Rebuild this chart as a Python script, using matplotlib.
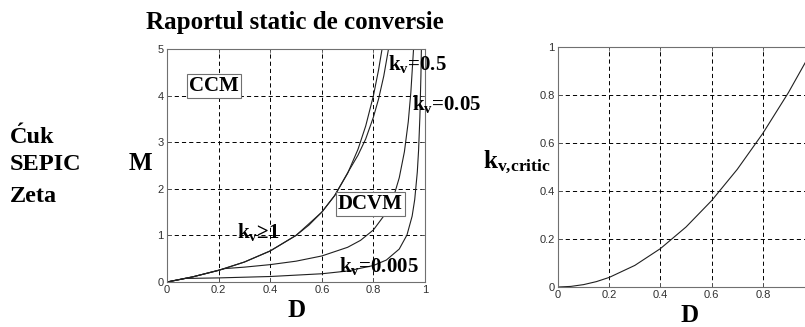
import numpy as np
import matplotlib.pyplot as plt

plt.rcParams['mathtext.fontset'] = 'custom'
plt.rcParams['mathtext.rm'] = 'Liberation Serif:bold'
plt.rcParams['mathtext.bf'] = 'Liberation Serif:bold'
plt.rcParams['mathtext.it'] = 'Liberation Serif:bold'
plt.rcParams['lines.scale_dashes'] = False

# M(D) curves
d_k1 = [0, 0.1, 0.2, 0.3, 0.4, 0.5, 0.55, 0.6, 0.65, 0.7, 0.74, 0.77, 0.8, 0.82, 0.834]
m_k1 = [0, 0.111, 0.25, 0.429, 0.667, 1.0, 1.222, 1.5, 1.857, 2.333, 2.846, 3.348, 4.0, 4.556, 5.02]

d_k05 = [0, 0.1, 0.2, 0.3, 0.4, 0.5, 0.6, 0.65, 0.707, 0.74, 0.77, 0.8, 0.82, 0.84, 0.859]
m_k05 = [0, 0.111, 0.25, 0.429, 0.667, 1.0, 1.5, 1.857, 2.41, 2.72, 3.07, 3.54, 3.93, 4.42, 5.02]

d_k005 = [0, 0.1, 0.224, 0.3, 0.4, 0.5, 0.6, 0.7, 0.75, 0.8, 0.85, 0.88, 0.9, 0.92, 0.935, 0.945, 0.956]
m_k005 = [0, 0.111, 0.288, 0.319, 0.373, 0.447, 0.559, 0.745, 0.894, 1.118, 1.491, 1.863, 2.236, 2.795, 3.44, 4.07, 5.05]

d_k0005 = [0, 0.071, 0.2, 0.4, 0.6, 0.7, 0.8, 0.85, 0.9, 0.93, 0.95, 0.96, 0.97, 0.975, 0.98, 0.984, 0.986]
m_k0005 = [0, 0.076, 0.088, 0.118, 0.177, 0.236, 0.354, 0.471, 0.707, 1.01, 1.414, 1.77, 2.36, 2.83, 3.54, 4.42, 5.05]

# critical k_v(D), right panel
d_crit = [0, 0.05, 0.1, 0.15, 0.2, 0.3, 0.4, 0.5, 0.6, 0.7, 0.8, 0.9, 1.0]
k_crit = [0, 0.0025, 0.01, 0.0225, 0.04, 0.09, 0.16, 0.25, 0.36, 0.49, 0.64, 0.81, 1.0]

ticks_d = [0, 0.2, 0.4, 0.6, 0.8, 1]
tick_labels_d = ['0', '0.2', '0.4', '0.6', '0.8', '1']
tick_labels_d_right = ['0', '0.2', '0.4', '0.6', '0.8', '']  # "1" falls off the image
ticks_m = [0, 1, 2, 3, 4, 5]
tick_labels_m = ['0', '1', '2', '3', '4', '5']
ticks_k = [0, 0.2, 0.4, 0.6, 0.8, 1]
tick_labels_k = ['0', '0.2', '0.4', '0.6', '0.8', '1']

serif = 'Liberation Serif'
grid_style = dict(color='black', linestyle=(0, (3, 2.2)), linewidth=0.7)

fig = plt.figure(figsize=(8.05, 3.27), dpi=100)
ax1 = fig.add_axes([0.2075, 0.1376, 0.3205, 0.7125])
ax2 = fig.add_axes([0.6932, 0.1223, 0.318, 0.734])


def style_axes(ax, xt, xl, yt, yl, ylim):
    ax.set_xlim(0, 1)
    ax.set_ylim(*ylim)
    ax.set_xticks(xt)
    ax.set_xticklabels(xl)
    ax.set_yticks(yt)
    ax.set_yticklabels(yl)
    ax.grid(True, **grid_style)
    ax.tick_params(direction='in', length=3, width=0.6, colors='#606060',
                   labelcolor='#303030', labelsize=8, pad=2.5,
                   top=True, right=True)
    for lab in ax.get_xticklabels() + ax.get_yticklabels():
        lab.set_family('Liberation Sans')
    for sp in ax.spines.values():
        sp.set_color('#707070')
        sp.set_linewidth(0.8)


style_axes(ax1, ticks_d, tick_labels_d, ticks_m, tick_labels_m, (0, 5))
style_axes(ax2, ticks_d, tick_labels_d_right, ticks_k, tick_labels_k, (0, 1))

lc = '#202020'
lw = 0.8
ax1.plot(d_k1, m_k1, color=lc, lw=lw)
ax1.plot(d_k05, m_k05, color=lc, lw=lw)
ax1.plot(d_k005, m_k005, color=lc, lw=lw)
ax1.plot(d_k0005, m_k0005, color=lc, lw=lw)
ax2.plot(d_crit, k_crit, color=lc, lw=lw)

box = dict(boxstyle='square,pad=0.1', facecolor='white', edgecolor='#707070', linewidth=0.8)
ax1.text(0.183, 4.2, 'CCM', family=serif, weight='bold', fontsize=15,
         ha='center', va='center', bbox=box)
ax1.text(0.787, 1.68, 'DCVM', family=serif, weight='bold', fontsize=15,
         ha='center', va='center', bbox=box)

kw = dict(family=serif, weight='bold', fontsize=15, va='center', ha='left', clip_on=False)
ax1.text(0.272, 1.08, r'$\mathbf{k_v}$' + '≥1', **kw)
ax1.text(0.855, 4.68, r'$\mathbf{k_v}$' + '=0.5', **kw)
ax1.text(0.95, 3.82, r'$\mathbf{k_v}$' + '=0.05', **kw)
ax1.text(0.668, 0.34, r'$\mathbf{k_v}$' + '=0.005', **kw)

fig.text(0.366, 0.93, 'Raportul static de conversie', family=serif,
         weight='bold', fontsize=18, ha='center', va='center')
fig.text(0.0124, 0.563, 'Ćuk', family=serif, weight='bold', fontsize=17.5)
fig.text(0.0124, 0.480, 'SEPIC', family=serif, weight='bold', fontsize=17.5)
fig.text(0.0124, 0.382, 'Zeta', family=serif, weight='bold', fontsize=17.5)
fig.text(0.174, 0.48, 'M', family=serif, weight='bold', fontsize=18, ha='center')
fig.text(0.369, 0.031, 'D', family=serif, weight='bold', fontsize=18, ha='center')
fig.text(0.857, 0.016, 'D', family=serif, weight='bold', fontsize=18, ha='center')
fig.text(0.6, 0.486, r'$\mathbf{k_{v{,}critic}}$', fontsize=18)

fig.savefig('out.png', dpi=100)
